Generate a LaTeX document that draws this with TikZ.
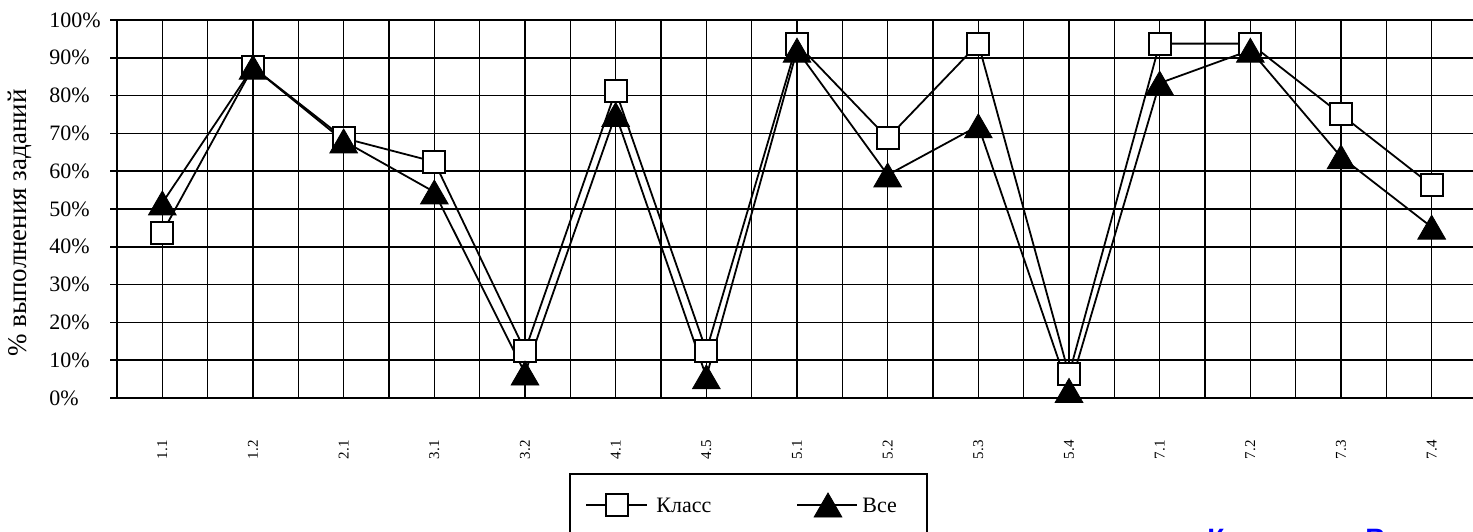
\documentclass[tikz,border=0pt]{standalone}
\usepackage{fontspec}
\setmainfont{Liberation Serif}
\newfontfamily\bluesans{Liberation Sans}
\usepackage{tikz}
\usetikzlibrary{positioning}
\usetikzlibrary{shapes.geometric}

\begin{document}
\begin{tikzpicture}[x=0.5pt, y=0.5pt,
    gridline/.style={line width=0.8pt},
    series/.style={line width=0.9pt},
    klassmark/.style={draw, rectangle, fill=white, line width=1pt, minimum size=11pt, inner sep=0pt},
    vsemark/.style={draw, fill=black, regular polygon, regular polygon sides=3, minimum size=16pt, inner sep=0pt, yshift=-2pt},
    ylabel/.style={anchor=west, inner sep=0pt, font=\fontsize{11}{13}\selectfont},
    xlabel/.style={anchor=east, rotate=90, inner sep=0pt, font=\fontsize{7.5}{8}\selectfont},
    legtext/.style={anchor=west, inner sep=0pt, font=\fontsize{11}{13}\selectfont}]

    \useasboundingbox (0,0) rectangle (1473,531);

    % Plot area (one unit = one task, one unit up = 1%)
    \begin{scope}[shift={(117,133)}, x=45.333pt, y=1.89pt]

    % Grid
    \foreach \k in {0,...,30}
        \draw[gridline] (\k/2,0) -- (\k/2,100);
    \foreach \p in {0,10,...,100}
        \draw[gridline] (-0.077,\p) -- (15.1,\p);

    % Axis labels
    \foreach \p in {0,10,...,100}
        \node[ylabel] (ylab\p) at (-0.75,\p) {\p\%};
    \foreach \c [count=\i] in {1.1,1.2,2.1,3.1,3.2,4.1,4.5,5.1,5.2,5.3,5.4,7.1,7.2,7.3,7.4}
        \node[xlabel] (xlab\i) at (\i-0.5,-11.1) {\c};
    \node[rotate=90, font=\fontsize{13.5}{16}\selectfont] (ytitle) at (-1.07,46.3) {\% выполнения заданий};

    % Data points
    \foreach \v [count=\i] in {43.75,87.5,68.75,62.5,12.5,81.25,12.5,93.75,68.75,93.75,6.25,93.75,93.75,75,56.25}
        \coordinate (klass\i) at (\i-0.5,\v);
    \foreach \v [count=\i] in {51.6,87.5,68,54.5,6.6,75,5.6,92,59,72,2,83.3,92,63.8,45.2}
        \coordinate (vse\i) at (\i-0.5,\v);

    % Lines
    \draw[series] (klass1) \foreach \i in {2,...,15} { -- (klass\i) };
    \draw[series] (vse1) \foreach \i in {2,...,15} { -- (vse\i) };

    % Markers
    \foreach \i in {1,...,15}
        \node[klassmark] (klassm\i) at (klass\i) {};
    \foreach \i in {1,...,15}
        \node[vsemark] (vsem\i) at (vse\i) {};

    \end{scope}

    % Legend
    \draw[line width=1pt] (570,-40) -- (570,57) -- (927,57) -- (927,-40);
    \coordinate (legk1) at (586,26);
    \coordinate (legk2) at (647,26);
    \coordinate (legv1) at (797,26);
    \coordinate (legv2) at (857,26);
    \draw[series] (legk1) -- (legk2);
    \draw[series] (legv1) -- (legv2);
    \node[klassmark] (legklass) at (617,26) {};
    \node[vsemark] (legvse) at (828,26) {};
    \node[legtext] (legklasstext) at (656,26) {Класс};
    \node[legtext] (legvsetext) at (862,26) {Все};

    % Caption cut at the page edge
    \node[anchor=north west, inner sep=0pt, text=blue, font=\bluesans\bfseries\fontsize{14}{16}\selectfont] (bluek) at (1207,2) {К};
    \node[anchor=north west, inner sep=0pt, text=blue, font=\bluesans\bfseries\fontsize{14}{16}\selectfont] (bluev) at (1365,2) {В};

\end{tikzpicture}
\end{document}
